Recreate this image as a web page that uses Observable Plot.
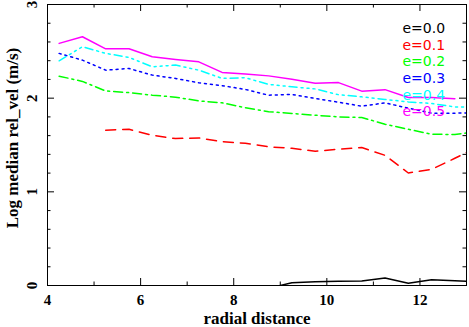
<!DOCTYPE html>
<html>
<head>
<meta charset="utf-8">
<script src="https://cdn.jsdelivr.net/npm/d3@7"></script>
<script src="https://cdn.jsdelivr.net/npm/@observablehq/plot@0.6"></script>
<style>
  html, body { margin: 0; padding: 0; background: white; }
  #chart svg { display: block; }
  g[aria-label="y-title"] text { letter-spacing: 2.6px; }
  g[aria-label="x-title"] text { letter-spacing: 1.5px; }
  g[aria-label="legend"] text { letter-spacing: 0.4px; }
</style>
</head>
<body>
<div id="chart"></div>
<script>
// ---- data ----
const radius = [4.25, 4.75, 5.25, 5.75, 6.25, 6.75, 7.25, 7.75, 8.25, 8.75, 9.25, 9.75, 10.25, 10.75, 11.25, 11.75, 12.25, 12.75, 13];
const e00 = [null, null, null, null, null, null, null, null, null, -0.03, 0.03, 0.04, 0.045, 0.048, 0.08, 0.025, 0.061, 0.05, 0.046];
const e01 = [null, null, 1.658, 1.668, 1.604, 1.569, 1.575, 1.535, 1.519, 1.481, 1.465, 1.433, 1.455, 1.473, 1.39, 1.201, 1.24, 1.358, 1.42];
const e02 = [2.235, 2.179, 2.077, 2.059, 2.032, 2.011, 1.971, 1.950, 1.898, 1.856, 1.836, 1.818, 1.800, 1.794, 1.722, 1.668, 1.615, 1.612, 1.629];
const e03 = [2.478, 2.406, 2.299, 2.317, 2.246, 2.211, 2.164, 2.134, 2.093, 2.032, 2.040, 1.997, 1.957, 1.914, 1.950, 1.893, 1.840, 1.840, 1.843];
const e04 = [2.399, 2.549, 2.478, 2.435, 2.335, 2.353, 2.299, 2.211, 2.218, 2.147, 2.121, 2.099, 2.037, 2.014, 1.986, 1.960, 1.943, 1.907, 1.905];
const e05 = [2.585, 2.656, 2.527, 2.527, 2.442, 2.414, 2.388, 2.275, 2.257, 2.238, 2.203, 2.160, 2.166, 2.075, 2.091, 2.008, 2.008, 1.993, null];

const seriesLabels = ["e=0.0", "e=0.1", "e=0.2", "e=0.3", "e=0.4", "e=0.5"];
const seriesValues = [e00, e01, e02, e03, e04, e05];

const xMajorTicks = [4, 6, 8, 10, 12];
const xMinorTicks = [5, 7, 9, 11, 13];
const yMajorTicks = [0, 1, 2, 3];
const yMinorTicks = [0.2, 0.4, 0.6, 0.8, 1.2, 1.4, 1.6, 1.8, 2.2, 2.4, 2.6, 2.8];

const xTitle = "radial distance";
const yTitle = "Log median rel_vel (m/s)";

// ---- styles ----
const colors = ["#000000", "#ff0000", "#00ff00", "#0000ff", "#00ffff", "#ff00ff"];
const dashes = [null, "10,7", "9,4,2,4", "2,4", "8,4,2,4,2,4,2,4", null];

const W = 469, H = 327;
const mL = 47, mR = 3, mT = 4, mB = 42;
const plotH = H - mT - mB;
const plotW = W - mL - mR;
const majorLen = 7, minorLen = 3.5;
const serif = "Liberation Serif, serif";
const sans = "DejaVu Sans, sans-serif";

const marks = [];

// lines
seriesValues.forEach((vals, i) => {
  const data = radius.map((r, j) => ({x: r, y: vals[j]})).filter(d => d.y != null);
  marks.push(Plot.line(data, {
    x: "x", y: "y", stroke: colors[i], strokeWidth: 1.5,
    strokeDasharray: dashes[i] || undefined, clip: true
  }));
});

// ticks on all four sides (pointing inward)
marks.push(Plot.tickX(xMajorTicks, {x: d => d, insetTop: plotH - majorLen, stroke: "black"}));
marks.push(Plot.tickX(xMajorTicks, {x: d => d, insetBottom: plotH - majorLen, stroke: "black"}));
marks.push(Plot.tickX(xMinorTicks, {x: d => d, insetTop: plotH - minorLen, stroke: "black"}));
marks.push(Plot.tickX(xMinorTicks, {x: d => d, insetBottom: plotH - minorLen, stroke: "black"}));
marks.push(Plot.tickY(yMajorTicks, {y: d => d, insetRight: plotW - majorLen, stroke: "black"}));
marks.push(Plot.tickY(yMajorTicks, {y: d => d, insetLeft: plotW - majorLen, stroke: "black"}));
marks.push(Plot.tickY(yMinorTicks, {y: d => d, insetRight: plotW - minorLen, stroke: "black"}));
marks.push(Plot.tickY(yMinorTicks, {y: d => d, insetLeft: plotW - minorLen, stroke: "black"}));

marks.push(Plot.frame({stroke: "black", strokeWidth: 1}));

// tick labels
marks.push(Plot.text(xMajorTicks, {
  x: d => d, frameAnchor: "bottom", dy: 15, text: d => String(d),
  textAnchor: "middle", lineAnchor: "middle",
  fontFamily: serif, fontSize: 15, fontWeight: "bold", fill: "black"
}));
marks.push(Plot.text(yMajorTicks, {
  y: d => d, frameAnchor: "left", dx: -15, rotate: -90, text: d => String(d),
  textAnchor: "middle", lineAnchor: "middle",
  fontFamily: serif, fontSize: 15, fontWeight: "bold", fill: "black"
}));

// axis titles
marks.push(Plot.text([xTitle], {
  frameAnchor: "bottom", dy: 33, text: d => d, ariaLabel: "x-title",
  textAnchor: "middle", lineAnchor: "middle",
  fontFamily: serif, fontSize: 17, fontWeight: "bold", fill: "black"
}));
marks.push(Plot.text([yTitle], {
  frameAnchor: "left", dx: -35, dy: -7, rotate: -90, text: d => d, ariaLabel: "y-title",
  textAnchor: "middle", lineAnchor: "middle",
  fontFamily: serif, fontSize: 17, fontWeight: "bold", fill: "black"
}));

// legend
seriesLabels.forEach((lab, i) => {
  marks.push(Plot.text([lab], {
    frameAnchor: "top-right", textAnchor: "start", lineAnchor: "middle",
    dx: -64, dy: 24 + i * 16.7, ariaLabel: "legend",
    text: d => d, fill: colors[i], fontFamily: sans, fontSize: 14
  }));
});

const chart = Plot.plot({
  width: W, height: H,
  marginLeft: mL, marginRight: mR, marginTop: mT, marginBottom: mB,
  x: {domain: [4, 13], axis: null},
  y: {domain: [0, 3], axis: null},
  style: {background: "white", overflow: "visible"},
  marks
});
document.getElementById("chart").appendChild(chart);
</script>
</body>
</html>
